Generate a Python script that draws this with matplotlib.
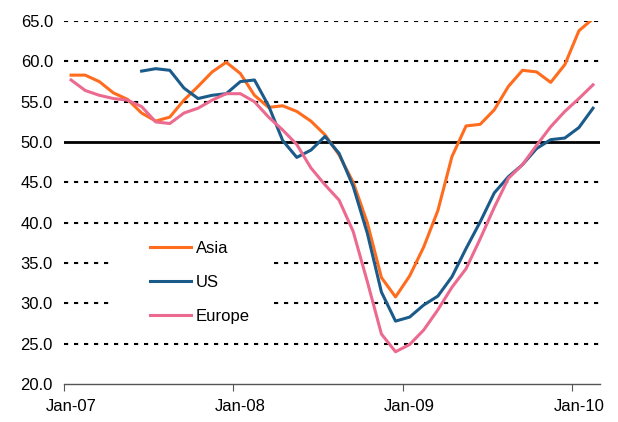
import numpy as np
import matplotlib.pyplot as plt
from matplotlib.patches import Rectangle

# ---------------- data (monthly, Jan-07 .. Feb-10) ---------------- #

months = np.arange(38)

asia = [58.3, 58.3, 57.5, 56.1, 55.3, 53.6, 52.6, 53.1, 55.2, 56.9,
        58.7, 59.9, 58.5, 55.8, 54.3, 54.5, 53.8, 52.6, 50.9, 48.4,
        45.0, 40.0, 33.2, 30.8, 33.4, 37.0, 41.5, 48.2, 52.0, 52.2,
        54.0, 56.9, 58.9, 58.7, 57.4, 59.6, 63.8, 65.3]

us = [None, None, None, None, None, 58.8, 59.1, 58.9, 56.7, 55.4,
      55.8, 56.0, 57.5, 57.7, 54.5, 50.2, 48.1, 49.0, 50.7, 48.6,
      44.5, 38.7, 31.4, 27.8, 28.3, 29.8, 30.9, 33.3, 36.8, 40.1,
      43.7, 45.7, 47.2, 49.2, 50.3, 50.5, 51.8, 54.2]

europe = [57.7, 56.4, 55.8, 55.4, 55.2, 54.4, 52.5, 52.3, 53.6, 54.2,
          55.2, 56.0, 56.0, 55.0, 53.1, 51.5, 49.7, 46.8, 44.7, 42.8,
          38.9, 32.7, 26.2, 24.0, 24.9, 26.7, 29.2, 32.0, 34.3, 38.0,
          41.9, 45.5, 47.2, 49.6, 51.9, 53.8, 55.4, 57.1]

year_labels = ["Jan-07", "Jan-08", "Jan-09", "Jan-10"]
y_ticks = np.arange(20, 66, 5)

# ---------------- plot ---------------- #

plt.rcParams['font.family'] = ['Liberation Sans', 'DejaVu Sans']

fig = plt.figure(figsize=(6.18, 4.22), dpi=100)
ax = fig.add_axes([0.1036, 0.09, 0.8674, 0.86])

x = months + 0.5

# dotted gridlines, solid line at 50
for y in y_ticks[1:]:
	if y == 50:
		ax.axhline(y, color="black", lw=2.0, zorder=1)
	else:
		ax.axhline(y, color="black", lw=1.5, linestyle=(0, (2, 2.8)), zorder=1)

us_arr = np.array([np.nan if v is None else v for v in us], dtype=float)

ax.plot(x, asia, color="#FF6C1E", lw=2.2, label="Asia", zorder=3)
ax.plot(x, us_arr, color="#1B5B8A", lw=2.2, label="US", zorder=3)
ax.plot(x, europe, color="#EC6A8F", lw=2.2, label="Europe", zorder=3)

ax.set_xlim(0, 38)
ax.set_ylim(20, 65)

ax.set_yticks(y_ticks)
ax.set_yticklabels(["%.1f" % v for v in y_ticks])
ax.tick_params(axis="y", length=0, pad=8, labelsize=12)

ax.set_xticks([0, 12, 24, 36])
ax.set_xticklabels([])
ax.set_xticks([0.5, 12.5, 24.5, 36.5], minor=True)
ax.set_xticklabels(year_labels, minor=True)
ax.tick_params(axis="x", which="major", direction="out", length=5, color="#555555")
ax.tick_params(axis="x", which="minor", length=0, pad=11, labelsize=12)

for s in ["top", "left", "right"]:
	ax.spines[s].set_visible(False)
ax.spines["bottom"].set_color("#555555")
ax.spines["bottom"].set_linewidth(1.0)

# legend box (white, no border) hiding the gridlines behind it
ax.add_patch(Rectangle((0.0914, 0.127), 0.293, 0.303, transform=ax.transAxes,
	facecolor="white", edgecolor="none", zorder=2))

leg = ax.legend(loc="center left", bbox_to_anchor=(0.1455, 0.2796), frameon=False,
	fontsize=12, handlelength=2.46, labelspacing=1.15, borderpad=0,
	handletextpad=0.25)
leg.set_zorder(5)

fig.savefig("out.png", dpi=100)
